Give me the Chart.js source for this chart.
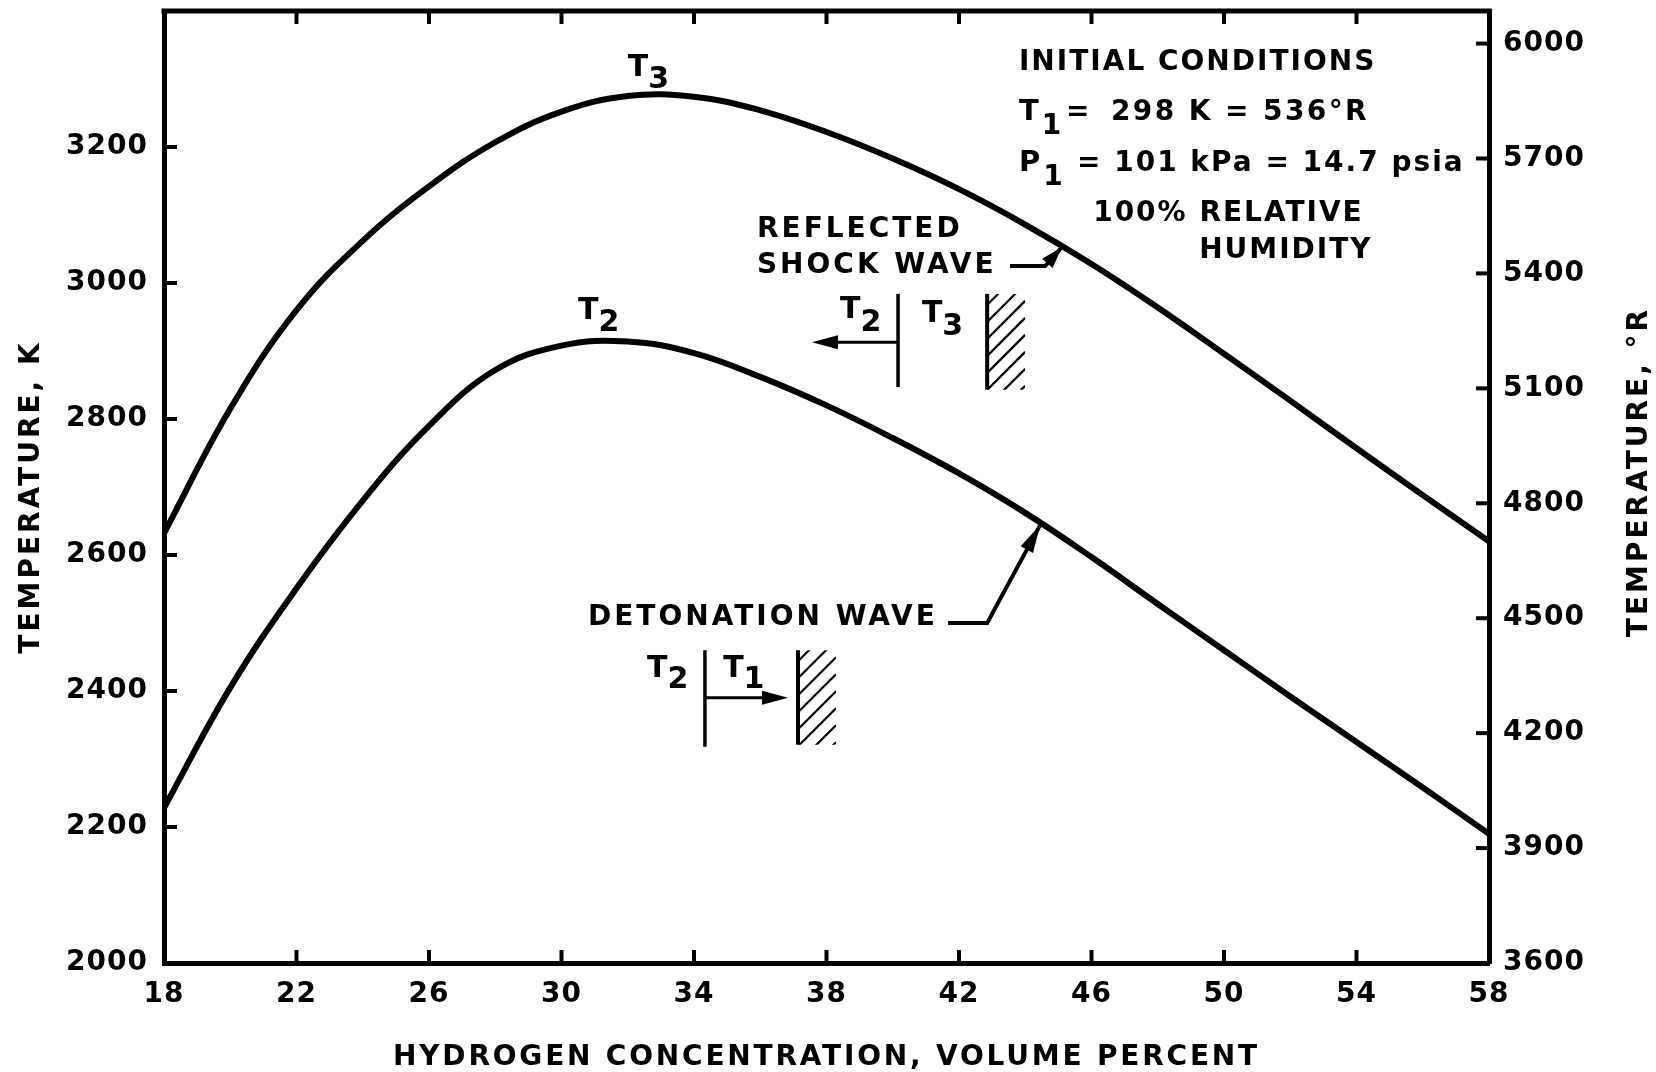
<!DOCTYPE html>
<html>
<head>
<meta charset="utf-8">
<title>Detonation and reflected shock temperatures</title>
<script src="https://cdn.jsdelivr.net/npm/chart.js@4/dist/chart.umd.min.js"></script>
<style>
  html, body { margin: 0; padding: 0; background: #fff; }
  #wrap { width: 1656px; height: 1072px; }
</style>
</head>
<body>
<div id="wrap"><canvas id="chart" width="1656" height="1072"></canvas></div>
<script>
// Hydrogen concentration, volume percent
const hydrogenPct = [18, 20, 22, 24, 26, 28, 30, 32, 34, 36, 38, 40, 42, 44, 46, 48, 50, 52, 54, 56, 58];
// Reflected shock wave temperature T3, K
const reflectedT3K = [2632, 2815, 2960, 3062, 3142, 3207, 3252, 3275, 3274, 3254, 3222, 3183, 3138, 3086, 3028, 2964, 2896, 2827, 2757, 2688, 2620];
// Detonation wave temperature T2, K
const detonationT2K = [2228, 2405, 2551, 2680, 2790, 2872, 2908, 2914, 2897, 2862, 2820, 2772, 2720, 2662, 2597, 2528, 2460, 2392, 2325, 2258, 2190];

// Axis tick values
const hydrogenTicks = [18, 22, 26, 30, 34, 38, 42, 46, 50, 54, 58];
const kelvinTicks = [2000, 2200, 2400, 2600, 2800, 3000, 3200];
const rankineTicks = [3600, 3900, 4200, 4500, 4800, 5100, 5400, 5700, 6000];

const FONT = '"DejaVu Sans", "Liberation Sans", sans-serif';
const tickFont = { family: FONT, weight: 'bold', size: 28 };

function toPoints(ys) {
  return hydrogenPct.map((x, i) => ({ x: x, y: ys[i] }));
}

// keep the plot frame fixed: no extra room for overhanging tick labels
function fixBox(size) {
  return s => {
    if (s.isHorizontal()) s.height = size; else s.width = size;
    s.paddingTop = 0; s.paddingBottom = 0; s.paddingLeft = 0; s.paddingRight = 0;
  };
}

// Inward tick marks on all four sides plus the top frame line
const frameTicks = {
  id: 'frameTicks',
  beforeDraw(chart) {
    chart.ctx.letterSpacing = '1px';
  },
  afterDraw(chart) {
    const { ctx, chartArea: a, scales } = chart;
    const L = 13;
    ctx.save();
    ctx.strokeStyle = '#000';
    ctx.lineCap = 'butt';
    const seg = (x1, y1, x2, y2) => { ctx.beginPath(); ctx.moveTo(x1, y1); ctx.lineTo(x2, y2); ctx.stroke(); };
    ctx.lineWidth = 4;
    scales.x.ticks.forEach(t => {
      const px = scales.x.getPixelForValue(t.value);
      if (px < a.left + 2 || px > a.right - 2) return;
      seg(px, a.bottom, px, a.bottom - L);
      seg(px, a.top, px, a.top + L);
    });
    scales.yK.ticks.forEach(t => {
      const py = scales.yK.getPixelForValue(t.value);
      if (py > a.bottom - 2 || py < a.top + 2) return;
      seg(a.left, py, a.left + L, py);
    });
    scales.yR.ticks.forEach(t => {
      const py = scales.yR.getPixelForValue(t.value);
      if (py > a.bottom - 2 || py < a.top + 2) return;
      seg(a.right, py, a.right - L, py);
    });
    ctx.lineWidth = 5;
    seg(a.left - 2.5, a.top, a.right + 2.5, a.top);

    // axis titles
    ctx.fillStyle = '#000';
    ctx.font = 'bold 28px ' + FONT;
    ctx.letterSpacing = '2.8px';
    ctx.textAlign = 'center';
    ctx.textBaseline = 'alphabetic';
    ctx.fillText('HYDROGEN CONCENTRATION, VOLUME PERCENT', (a.left + a.right) / 2, 1065);
    ctx.letterSpacing = '3px';
    ctx.save();
    ctx.translate(39, 497);
    ctx.rotate(-Math.PI / 2);
    ctx.fillText('TEMPERATURE, K', 0, 0);
    ctx.restore();
    ctx.save();
    ctx.translate(1647, 472);
    ctx.rotate(-Math.PI / 2);
    ctx.fillText('TEMPERATURE, \u00B0R', 0, 0);
    ctx.restore();
    ctx.restore();
  }
};

// Labels, leaders and wave diagrams placed in data units
const waveNotes = {
  id: 'waveNotes',
  afterDatasetsDraw(chart) {
    const { ctx, scales } = chart;
    const X = v => scales.x.getPixelForValue(v);
    const Y = v => scales.yK.getPixelForValue(v);
    ctx.save();
    ctx.fillStyle = '#000';
    ctx.strokeStyle = '#000';
    ctx.textAlign = 'left';
    ctx.textBaseline = 'alphabetic';
    const seg = (x1, y1, x2, y2) => { ctx.beginPath(); ctx.moveTo(x1, y1); ctx.lineTo(x2, y2); ctx.stroke(); };
    const text = (s, x, y, size, ls) => {
      ctx.font = 'bold ' + size + 'px ' + FONT;
      ctx.letterSpacing = ls + 'px';
      ctx.fillText(s, x, y);
      return ctx.measureText(s).width;
    };
    // "T" with a lowered index
    const tsub = (idx, x, y, drop) => {
      const w = text('T', x, y, 30, 0);
      const w2 = text(idx, x + w, y + drop, 30, 0);
      return w + w2;
    };
    const head = (tx, ty, fx, fy, len, half) => {
      const ang = Math.atan2(ty - fy, tx - fx);
      const bx = tx - len * Math.cos(ang), by = ty - len * Math.sin(ang);
      const nx = -Math.sin(ang) * half, ny = Math.cos(ang) * half;
      ctx.beginPath();
      ctx.moveTo(tx, ty);
      ctx.lineTo(bx + nx, by + ny);
      ctx.lineTo(bx - nx, by - ny);
      ctx.closePath();
      ctx.fill();
    };
    const wall = (x, y0, y1, w) => {
      ctx.lineWidth = 4;
      seg(x, y0, x, y1);
      ctx.save();
      ctx.beginPath();
      ctx.rect(x, y0, w, y1 - y0);
      ctx.clip();
      ctx.lineWidth = 2.2;
      for (let k = y0 + 11; k < y1 + w; k += 17) seg(x, k, x + w, k - w);
      ctx.restore();
    };

    // curve labels
    tsub('3', X(32.0), Y(3304), 12);
    tsub('2', X(30.5), Y(2947), 12);

    // initial conditions block
    const x0 = X(43.81);
    text('INITIAL CONDITIONS', x0, Y(3313), 28, 2);
    let w = text('T', x0, Y(3240), 29, 2);
    text('1', x0 + w + 1, Y(3240) + 14, 28, 0);
    text('=', x0 + 47, Y(3240), 28, 0);
    text('298 K = 536\u00B0R', x0 + 92, Y(3240), 28, 2.4);
    w = text('P', x0, Y(3165), 29, 2);
    text('1', x0 + w + 1, Y(3165) + 14, 28, 0);
    text('= 101 kPa = 14.7 psia', x0 + 58, Y(3165), 28, 2);
    text('100% RELATIVE', X(46.05), Y(3091), 28, 2);
    text('HUMIDITY', X(49.25), Y(3037), 28, 2);

    // reflected shock wave label and leader
    text('REFLECTED', X(35.9), Y(3068), 28, 3);
    text('SHOCK WAVE', X(35.9), Y(3015), 28, 3);
    ctx.lineWidth = 4;
    ctx.beginPath();
    ctx.moveTo(X(43.54), Y(3025));
    ctx.lineTo(X(44.6), Y(3025));
    ctx.lineTo(X(45.11), Y(3053));
    ctx.stroke();
    head(X(45.11), Y(3053), X(44.6), Y(3025), 22, 7);

    // reflected shock diagram
    tsub('2', X(38.41), Y(2949), 13);
    ctx.lineWidth = 3.5;
    seg(X(40.16), Y(2984), X(40.16), Y(2847));
    ctx.lineWidth = 3;
    seg(X(40.16), Y(2913), X(37.56) + 20, Y(2913));
    head(X(37.56), Y(2913), X(40.16), Y(2913), 26, 7);
    tsub('3', X(40.88), Y(2943), 13);
    wall(X(42.85), Y(2984), Y(2843), 38);

    // detonation wave label and leader
    text('DETONATION WAVE', X(30.8), Y(2497), 28, 3);
    ctx.lineWidth = 4;
    ctx.beginPath();
    ctx.moveTo(X(41.67), Y(2500));
    ctx.lineTo(X(42.85), Y(2500));
    ctx.lineTo(X(44.45), Y(2644));
    ctx.stroke();
    head(X(44.45), Y(2644), X(42.85), Y(2500), 28, 7);

    // detonation diagram
    tsub('2', X(32.58), Y(2421), 11);
    ctx.lineWidth = 3.5;
    seg(X(34.33), Y(2460), X(34.33), Y(2318));
    ctx.lineWidth = 3;
    seg(X(34.33), Y(2390), X(36.84) - 20, Y(2390));
    head(X(36.84), Y(2390), X(34.33), Y(2390), 26, 7);
    tsub('1', X(34.88), Y(2421), 11);
    wall(X(37.14), Y(2460), Y(2321), 38);

    ctx.restore();
  }
};

const lineStyle = {
  borderColor: '#000',
  borderWidth: 6,
  pointRadius: 0,
  fill: false,
  tension: 0.4,
  yAxisID: 'yK'
};

new Chart(document.getElementById('chart'), {
  type: 'line',
  data: {
    datasets: [
      Object.assign({ label: 'T3, reflected shock wave', data: toPoints(reflectedT3K) }, lineStyle),
      Object.assign({ label: 'T2, detonation wave', data: toPoints(detonationT2K) }, lineStyle)
    ]
  },
  options: {
    responsive: false,
    animation: false,
    devicePixelRatio: 1,
    layout: { padding: { top: 11, left: 0, right: 0, bottom: 0 } },
    plugins: { legend: { display: false }, tooltip: { enabled: false } },
    scales: {
      x: {
        type: 'linear', position: 'bottom', min: 18, max: 58,
        afterBuildTicks: s => { s.ticks = hydrogenTicks.map(v => ({ value: v })); },
        afterFit: fixBox(109),
        grid: { display: false, drawTicks: false },
        border: { display: true, color: '#000', width: 5 },
        ticks: { font: tickFont, color: '#000', padding: 15, maxRotation: 0, autoSkip: false, callback: v => String(v) }
      },
      yK: {
        type: 'linear', position: 'left', min: 2000, max: 3400,
        afterBuildTicks: s => { s.ticks = kelvinTicks.map(v => ({ value: v })); },
        afterFit: fixBox(164),
        grid: { display: false, drawTicks: false },
        border: { display: true, color: '#000', width: 5 },
        ticks: { font: tickFont, color: '#000', padding: 16, autoSkip: false, callback: v => String(v) }
      },
      yR: {
        type: 'linear', position: 'right', min: 3600, max: 6085,
        afterBuildTicks: s => { s.ticks = rankineTicks.map(v => ({ value: v })); },
        afterFit: fixBox(167),
        grid: { display: false, drawTicks: false },
        border: { display: true, color: '#000', width: 5 },
        ticks: { font: tickFont, color: '#000', padding: 14, autoSkip: false, callback: v => String(v) }
      }
    }
  },
  plugins: [frameTicks, waveNotes]
});
</script>
</body>
</html>
